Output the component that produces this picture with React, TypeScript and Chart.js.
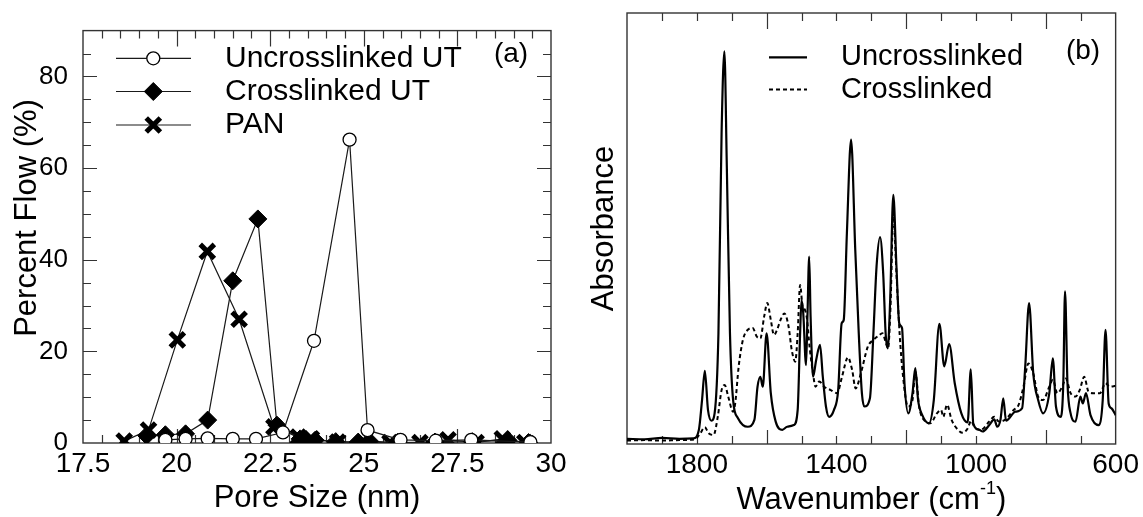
import React, { useEffect, useRef } from 'react';
import { Chart, registerables } from 'chart.js';

Chart.register(...registerables);

const FONT = '"Liberation Sans", Arial, Helvetica, sans-serif';

// ---------- Panel (a): pore size distribution ----------
const poreUncrosslinked = [19.7, 20.24, 20.83, 21.5, 22.12, 22.84, 23.67, 24.62, 25.1, 25.98, 26.92, 27.87, 29.45];
const flowUncrosslinked = [0.7, 0.9, 1.0, 0.9, 0.9, 2.3, 22.3, 66.2, 2.8, 0.7, 0.5, 0.7, 0.2];

const poreCrosslinked = [19.2, 19.7, 20.24, 20.83, 21.5, 22.17, 22.68, 23.3, 23.7, 24.25, 24.85, 25.15, 25.9, 26.9, 27.9, 28.85, 29.4];
const flowCrosslinked = [1.6, 1.8, 2.0, 5.0, 35.4, 48.9, 3.9, 0.9, 0.6, 0.3, 0.2, 0.4, 0.1, 0.2, 0.3, 0.6, 0.1];

const porePAN = [18.6, 19.25, 20.02, 20.82, 21.67, 22.6, 23.25, 23.6, 24.3, 25.0, 25.7, 26.5, 27.25, 28.0, 28.7, 29.3];
const flowPAN = [0.4, 2.8, 22.5, 41.8, 27.0, 3.5, 1.3, 0.9, 0.2, 0.2, 0.1, 0.1, 0.7, 0.1, 0.9, 0.1];

const poreTicks = [17.5, 20, 22.5, 25, 27.5, 30];
const flowTicks = [0, 20, 40, 60, 80];

// ---------- Panel (b): FTIR spectra ----------
const wnUncrosslinked = [2000, 1950, 1900, 1850, 1810, 1794, 1785, 1777, 1768, 1758, 1749, 1738, 1729, 1721, 1714, 1705, 1696, 1682, 1654, 1635, 1626, 1618, 1611, 1600, 1588, 1574, 1555, 1541, 1522, 1511, 1504, 1500, 1495, 1487, 1483, 1478, 1474, 1467, 1458, 1447, 1439, 1430, 1421, 1407, 1395, 1385, 1379, 1370, 1358, 1346, 1336, 1327, 1320, 1304, 1294, 1285, 1275, 1266, 1259, 1253, 1246, 1237, 1228, 1220, 1212, 1205, 1194, 1182, 1174, 1166, 1154, 1135, 1121, 1105, 1091, 1077, 1061, 1042, 1024, 1015, 1008, 991, 981, 962, 948, 939, 930, 922, 914, 887, 868, 859, 848, 836, 822, 808, 790, 780, 771, 757, 750, 745, 738, 729, 715, 701, 694, 685, 672, 649, 637, 629, 620, 612, 600];
const absUncrosslinked = [0.012, 0.011, 0.014, 0.012, 0.013, 0.033, 0.102, 0.170, 0.079, 0.054, 0.071, 0.257, 0.721, 0.911, 0.644, 0.257, 0.102, 0.060, 0.040, 0.056, 0.133, 0.156, 0.133, 0.257, 0.118, 0.052, 0.033, 0.040, 0.044, 0.079, 0.257, 0.334, 0.303, 0.183, 0.296, 0.435, 0.296, 0.156, 0.195, 0.230, 0.156, 0.087, 0.063, 0.079, 0.125, 0.280, 0.288, 0.489, 0.706, 0.450, 0.257, 0.118, 0.087, 0.106, 0.257, 0.412, 0.480, 0.396, 0.257, 0.222, 0.334, 0.578, 0.412, 0.280, 0.269, 0.141, 0.071, 0.118, 0.176, 0.102, 0.067, 0.048, 0.102, 0.279, 0.180, 0.232, 0.141, 0.071, 0.050, 0.173, 0.048, 0.033, 0.029, 0.044, 0.057, 0.040, 0.056, 0.106, 0.054, 0.075, 0.083, 0.180, 0.327, 0.164, 0.102, 0.071, 0.118, 0.199, 0.087, 0.063, 0.141, 0.354, 0.141, 0.071, 0.052, 0.110, 0.094, 0.118, 0.067, 0.044, 0.102, 0.265, 0.094, 0.083, 0.067];

const wnCrosslinked = [2000, 1950, 1900, 1850, 1805, 1790, 1777, 1766, 1752, 1740, 1729, 1720, 1710, 1696, 1690, 1680, 1668, 1654, 1640, 1628, 1618, 1607, 1598, 1588, 1579, 1570, 1560, 1549, 1537, 1528, 1518, 1511, 1504, 1497, 1490, 1484, 1477, 1467, 1460, 1449, 1435, 1416, 1398, 1384, 1367, 1355, 1345, 1330, 1310, 1295, 1280, 1268, 1258, 1252, 1245, 1237, 1228, 1219, 1209, 1195, 1182, 1174, 1163, 1145, 1131, 1112, 1100, 1094, 1083, 1070, 1052, 1038, 1024, 1014, 1005, 986, 962, 948, 934, 916, 892, 878, 864, 850, 836, 822, 808, 790, 780, 767, 753, 743, 729, 715, 703, 690, 678, 664, 645, 629, 617, 600];
const absCrosslinked = [0.008, 0.009, 0.008, 0.009, 0.011, 0.025, 0.039, 0.025, 0.021, 0.063, 0.125, 0.137, 0.110, 0.075, 0.094, 0.180, 0.241, 0.265, 0.269, 0.249, 0.245, 0.296, 0.327, 0.288, 0.253, 0.265, 0.288, 0.303, 0.272, 0.218, 0.191, 0.257, 0.369, 0.319, 0.311, 0.288, 0.226, 0.164, 0.133, 0.145, 0.133, 0.125, 0.118, 0.156, 0.201, 0.172, 0.129, 0.164, 0.226, 0.241, 0.251, 0.257, 0.234, 0.222, 0.319, 0.536, 0.396, 0.257, 0.156, 0.087, 0.102, 0.168, 0.087, 0.052, 0.048, 0.071, 0.079, 0.063, 0.091, 0.056, 0.033, 0.026, 0.036, 0.054, 0.040, 0.033, 0.052, 0.063, 0.052, 0.057, 0.079, 0.091, 0.133, 0.187, 0.164, 0.110, 0.102, 0.133, 0.149, 0.118, 0.133, 0.152, 0.118, 0.110, 0.125, 0.156, 0.122, 0.118, 0.118, 0.141, 0.133, 0.135];

const wavenumberTicks = [1800, 1400, 1000, 600];

const AXIS_COLOR = '#333';
const LINE_COLOR = '#1a1a1a';

function drawMarker(ctx: CanvasRenderingContext2D, style: string, x: number, y: number, r: number, fill: string, stroke: string, lw: number) {
  ctx.save();
  ctx.beginPath();
  ctx.lineWidth = lw;
  ctx.strokeStyle = stroke;
  ctx.fillStyle = fill;
  if (style === 'circle') {
    ctx.arc(x, y, r, 0, Math.PI * 2);
    ctx.fill();
    ctx.stroke();
  } else if (style === 'rectRot') {
    ctx.moveTo(x - r, y);
    ctx.lineTo(x, y - r);
    ctx.lineTo(x + r, y);
    ctx.lineTo(x, y + r);
    ctx.closePath();
    ctx.fill();
    ctx.stroke();
  } else if (style === 'crossRot') {
    const o = r * Math.SQRT1_2;
    ctx.moveTo(x - o, y - o);
    ctx.lineTo(x + o, y + o);
    ctx.moveTo(x + o, y - o);
    ctx.lineTo(x - o, y + o);
    ctx.stroke();
  }
  ctx.restore();
}

function framePlugin(o: { xMinor: number; xMajor: number; yMinor?: number; yMajor?: number }) {
  return {
    id: 'frameTicks',
    beforeDatasetsDraw(chart: any) {
      const { ctx, chartArea: a } = chart;
      const xs = chart.scales.x;
      const ys = chart.scales.y;
      ctx.save();
      ctx.strokeStyle = AXIS_COLOR;
      ctx.lineWidth = 1.4;
      ctx.strokeRect(a.left, a.top, a.right - a.left, a.bottom - a.top);
      ctx.lineWidth = 1.2;
      const isMajor = (v: number, step: number) => Math.abs(v / step - Math.round(v / step)) < 1e-6;
      const nx = Math.round((xs.max - xs.min) / o.xMinor);
      for (let i = 1; i < nx; i++) {
        const v = xs.min + i * o.xMinor;
        const px = Math.round(xs.getPixelForValue(v)) + 0.5;
        const major = isMajor(v, o.xMajor);
        ctx.beginPath();
        ctx.moveTo(px, a.bottom);
        ctx.lineTo(px, a.bottom - (major ? 14 : 8));
        ctx.moveTo(px, a.top);
        ctx.lineTo(px, a.top + (major ? 16 : 8));
        ctx.stroke();
      }
      if (o.yMinor && o.yMajor) {
        const ny = Math.round((ys.max - ys.min) / o.yMinor);
        for (let i = 1; i < ny; i++) {
          const v = ys.min + i * o.yMinor;
          const py = Math.round(ys.getPixelForValue(v)) + 0.5;
          const len = isMajor(v, o.yMajor) ? 14 : 8;
          ctx.beginPath();
          ctx.moveTo(a.left, py);
          ctx.lineTo(a.left + len, py);
          ctx.moveTo(a.right, py);
          ctx.lineTo(a.right - len, py);
          ctx.stroke();
        }
      }
      ctx.restore();
    },
  };
}

const legendA = {
  id: 'legendA',
  afterDraw(chart: any) {
    const ctx = chart.ctx as CanvasRenderingContext2D;
    const rowsY = [58.3, 91.5, 125];
    chart.data.datasets.forEach((ds: any, i: number) => {
      const y = rowsY[i];
      ctx.save();
      ctx.strokeStyle = ds.borderColor;
      ctx.lineWidth = ds.borderWidth;
      ctx.beginPath();
      ctx.moveTo(116, y);
      ctx.lineTo(191, y);
      ctx.stroke();
      ctx.restore();
      drawMarker(ctx, ds.pointStyle, 153.3, y, ds.pointRadius, ds.pointBackgroundColor, ds.pointBorderColor, ds.pointBorderWidth);
      ctx.save();
      ctx.fillStyle = '#000';
      ctx.font = `30px ${FONT}`;
      ctx.textBaseline = 'middle';
      ctx.textAlign = 'left';
      ctx.fillText(ds.label, 225, y);
      ctx.restore();
    });
    ctx.save();
    ctx.fillStyle = '#000';
    ctx.font = `28px ${FONT}`;
    ctx.textBaseline = 'middle';
    ctx.textAlign = 'center';
    ctx.fillText('(a)', 511, 54.5);
    // y-axis title, centred where the original sits
    ctx.translate(27, 218);
    ctx.rotate(-Math.PI / 2);
    ctx.font = `31px ${FONT}`;
    ctx.fillText('Percent Flow (%)', 0, 0);
    ctx.restore();
  },
};

const legendB = {
  id: 'legendB',
  afterDraw(chart: any) {
    const ctx = chart.ctx as CanvasRenderingContext2D;
    const rowsY = [57.3, 89.5];
    chart.data.datasets.forEach((ds: any, i: number) => {
      const y = rowsY[i];
      ctx.save();
      ctx.strokeStyle = ds.borderColor;
      ctx.lineWidth = ds.borderWidth;
      ctx.setLineDash(ds.borderDash || []);
      ctx.beginPath();
      ctx.moveTo(198, y);
      ctx.lineTo(236, y);
      ctx.stroke();
      ctx.restore();
      ctx.save();
      ctx.fillStyle = '#000';
      ctx.font = `29px ${FONT}`;
      ctx.textBaseline = 'middle';
      ctx.textAlign = 'left';
      ctx.fillText(ds.label, 270, y);
      ctx.restore();
    });
    ctx.save();
    ctx.fillStyle = '#000';
    ctx.font = `28px ${FONT}`;
    ctx.textBaseline = 'middle';
    ctx.textAlign = 'center';
    ctx.fillText('(b)', 512, 51.5);
    // x-axis title with superscript
    const a = chart.chartArea;
    const cx = (a.left + a.right) / 2;
    const y = 500;
    ctx.font = `31px ${FONT}`;
    const p1 = 'Wavenumber (cm';
    const sup = '-1';
    const p3 = ')';
    const w1 = ctx.measureText(p1).width;
    const w3 = ctx.measureText(p3).width;
    ctx.font = `18px ${FONT}`;
    const w2 = ctx.measureText(sup).width;
    const total = w1 + w2 + w3;
    let x = cx - total / 2;
    ctx.textAlign = 'left';
    ctx.font = `31px ${FONT}`;
    ctx.fillText(p1, x, y);
    x += w1;
    ctx.font = `18px ${FONT}`;
    ctx.fillText(sup, x, y - 11);
    x += w2;
    ctx.font = `31px ${FONT}`;
    ctx.fillText(p3, x, y);
    ctx.restore();
  },
};

export default function App() {
  const refA = useRef<HTMLCanvasElement>(null);
  const refB = useRef<HTMLCanvasElement>(null);

  useEffect(() => {
    const tickFont = { family: FONT, size: 28 };
    const yTickFont = { family: FONT, size: 26 };
    const titleFont = { family: FONT, size: 31, lineHeight: 1.2 };

    const chartA = new Chart(refA.current as HTMLCanvasElement, {
      type: 'scatter',
      data: {
        datasets: [
          {
            label: 'Uncrosslinked UT',
            data: poreUncrosslinked.map((x, i) => ({ x, y: flowUncrosslinked[i] })),
            showLine: true,
            borderColor: LINE_COLOR,
            borderWidth: 1.2,
            pointStyle: 'circle',
            pointRadius: 6.5,
            pointBackgroundColor: '#fff',
            pointBorderColor: '#000',
            pointBorderWidth: 1.3,
            clip: 0,
          } as any,
          {
            label: 'Crosslinked UT',
            data: poreCrosslinked.map((x, i) => ({ x, y: flowCrosslinked[i] })),
            showLine: true,
            borderColor: LINE_COLOR,
            borderWidth: 1.2,
            pointStyle: 'rectRot',
            pointRadius: 9,
            pointBackgroundColor: '#000',
            pointBorderColor: '#000',
            pointBorderWidth: 1,
            clip: 0,
          } as any,
          {
            label: 'PAN',
            data: porePAN.map((x, i) => ({ x, y: flowPAN[i] })),
            showLine: true,
            borderColor: LINE_COLOR,
            borderWidth: 1.2,
            pointStyle: 'crossRot',
            pointRadius: 10,
            pointBackgroundColor: '#000',
            pointBorderColor: '#000',
            pointBorderWidth: 5,
            clip: 0,
          } as any,
        ],
      },
      options: {
        animation: false,
        responsive: false,
        devicePixelRatio: 1,
        layout: { padding: { top: 13, right: 20, left: 0, bottom: 0 } },
        plugins: { legend: { display: false }, tooltip: { enabled: false } },
        scales: {
          x: {
            type: 'linear',
            min: 17.5,
            max: 30,
            afterBuildTicks: (s: any) => { s.ticks = poreTicks.map((v) => ({ value: v })); },
            afterFit: (s: any) => { s.height = 74; },
            grid: { display: false, drawTicks: false },
            border: { display: false },
            ticks: { font: tickFont, color: '#000', padding: 4, maxRotation: 0, autoSkip: false, callback: (v: any) => String(v) },
            title: { display: true, text: 'Pore Size (nm)', font: titleFont, color: '#000', padding: { top: 0, bottom: 0 } },
          },
          y: {
            type: 'linear',
            min: 0,
            max: 90,
            afterBuildTicks: (s: any) => { s.ticks = flowTicks.map((v) => ({ value: v })); },
            afterFit: (s: any) => { s.width = 83; },
            grid: { display: false, drawTicks: false },
            border: { display: false },
            ticks: { font: yTickFont, color: '#000', padding: 15, callback: (v: any) => String(v) },
            title: { display: false },
          },
        },
      },
      plugins: [framePlugin({ xMinor: 0.5, xMajor: 2.5, yMinor: 5, yMajor: 20 }), legendA],
    });

    const chartB = new Chart(refB.current as HTMLCanvasElement, {
      type: 'scatter',
      data: {
        datasets: [
          {
            label: 'Uncrosslinked',
            data: wnUncrosslinked.map((x, i) => ({ x, y: absUncrosslinked[i] })),
            showLine: true,
            borderColor: '#000',
            borderWidth: 2.2,
            pointRadius: 0,
            cubicInterpolationMode: 'monotone',
          } as any,
          {
            label: 'Crosslinked',
            data: wnCrosslinked.map((x, i) => ({ x, y: absCrosslinked[i] })),
            showLine: true,
            borderColor: '#000',
            borderWidth: 2,
            borderDash: [4, 3],
            pointRadius: 0,
            cubicInterpolationMode: 'monotone',
          } as any,
        ],
      },
      options: {
        animation: false,
        responsive: false,
        devicePixelRatio: 1,
        layout: { padding: { top: 13, right: 17, left: 0, bottom: 0 } },
        plugins: { legend: { display: false }, tooltip: { enabled: false } },
        scales: {
          x: {
            type: 'linear',
            min: 600,
            max: 2000,
            reverse: true,
            afterBuildTicks: (s: any) => { s.ticks = wavenumberTicks.map((v) => ({ value: v })); },
            afterFit: (s: any) => { s.height = 73; },
            grid: { display: false, drawTicks: false },
            border: { display: false },
            ticks: { font: tickFont, color: '#000', padding: 4, maxRotation: 0, autoSkip: false, callback: (v: any) => String(v) },
            title: { display: false },
          },
          y: {
            type: 'linear',
            min: 0,
            max: 1,
            afterFit: (s: any) => { s.width = 56; },
            grid: { display: false, drawTicks: false },
            border: { display: false },
            ticks: { display: false },
            title: { display: true, text: 'Absorbance', font: titleFont, color: '#000', padding: { top: 15, bottom: 0 } },
          },
        },
      },
      plugins: [framePlugin({ xMinor: 100, xMajor: 400 }), legendB],
    });

    return () => {
      chartA.destroy();
      chartB.destroy();
    };
  }, []);

  return (
    <div style={{ position: 'absolute', left: 0, top: 0, width: 1143, height: 517, background: '#fff' }}>
      <canvas ref={refA} width={571} height={517} style={{ position: 'absolute', left: 0, top: 0, display: 'block' }} />
      <canvas ref={refB} width={572} height={517} style={{ position: 'absolute', left: 571, top: 0, display: 'block' }} />
    </div>
  );
}
